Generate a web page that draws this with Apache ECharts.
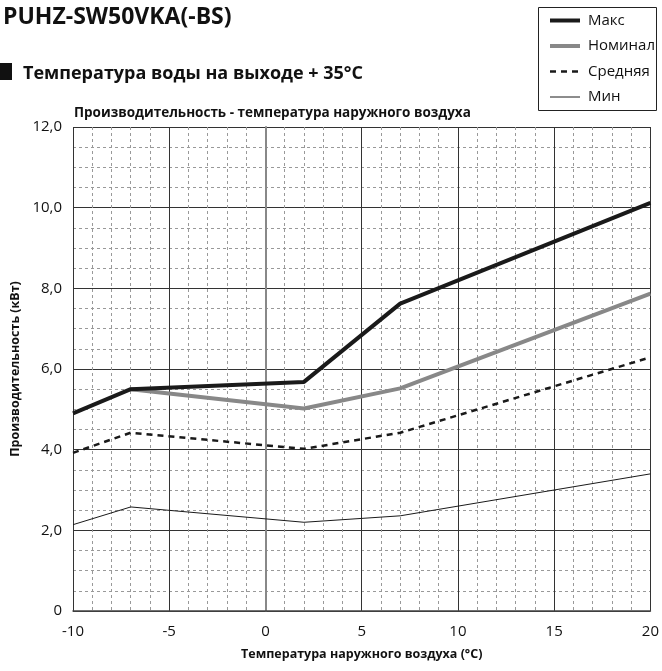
<!DOCTYPE html>
<html>
<head>
<meta charset="utf-8">
<script src="https://cdn.jsdelivr.net/npm/echarts@6/dist/echarts.min.js"></script>
<style>
html,body{margin:0;padding:0;background:#fff;}
#chart{width:662px;height:671px;}
</style>
</head>
<body>
<div id="chart"></div>
<script>
var seriesNames = ['Макс', 'Номинал', 'Средняя', 'Мин'];
var tempMax = [-10, -7, 2, 7, 20];
var valMax = [4.9, 5.5, 5.68, 7.62, 10.12];
var tempNom = [-7, 2, 7, 20];
var valNom = [5.5, 5.02, 5.52, 7.87];
var tempAvg = [-10, -7, 2, 7, 20];
var valAvg = [3.92, 4.42, 4.02, 4.42, 6.29];
var tempMin = [-10, -7, 2, 7, 20];
var valMin = [2.14, 2.58, 2.2, 2.36, 3.4];

function pairs(xs, ys) { return xs.map(function (x, i) { return [x, ys[i]]; }); }

var FONT = '"Open Sans", "Noto Sans", sans-serif';
var lineStyles = [
  {color: '#1a1a1a', width: 4},
  {color: '#888', width: 4},
  {color: '#1a1a1a', width: 2.5, type: [6, 5]},
  {color: '#1a1a1a', width: 1}
];
var chart = echarts.init(document.getElementById('chart'), null, {renderer: 'canvas'});
chart.setOption({
  backgroundColor: '#fff',
  animation: false,
  textStyle: {fontFamily: FONT},
  title: [
    {text: 'PUHZ-SW50VKA(-BS)', left: -2, top: 1, textStyle: {fontSize: 23, fontWeight: 'bold', color: '#111', fontFamily: FONT}},
    {text: 'Температура воды на выходе + 35°C', left: 18, top: 60, textStyle: {fontSize: 18, fontWeight: 'bold', color: '#111', fontFamily: FONT}},
    {text: 'Производительность - температура наружного воздуха', left: 69, top: 101, textStyle: {fontSize: 13.5, fontWeight: 'bold', color: '#111', fontFamily: FONT}}
  ],
  graphic: [
    {type: 'rect', shape: {x: 0, y: 63, width: 12, height: 17}, style: {fill: '#111'}},
    {type: 'rect', shape: {x: 538.5, y: 7.5, width: 118, height: 103}, style: {fill: 'none', stroke: '#222', lineWidth: 1}}
  ],
  legend: {
    orient: 'vertical', left: 543, top: 8,
    itemWidth: 30, itemHeight: 14, itemGap: 10.5,
    data: seriesNames.map(function (n, i) { return {name: n, lineStyle: lineStyles[i]}; }),
    itemStyle: {opacity: 0},
    textStyle: {fontSize: 15, color: '#111', fontFamily: FONT, padding: [0, 0, 0, 3]}
  },
  grid: {left: 73, right: 9, top: 127, bottom: 60, containLabel: false},
  xAxis: {
    type: 'value', min: -10, max: 20, interval: 5,
    name: 'Температура наружного воздуха (°C)', nameLocation: 'middle', nameGap: 37,
    nameTextStyle: {fontSize: 12.5, fontWeight: 'bold', color: '#111', fontFamily: FONT},
    axisLine: {show: true, onZero: false, lineStyle: {color: '#444', width: 1.5}},
    axisTick: {show: false},
    axisLabel: {fontSize: 15, color: '#111', margin: 13, fontFamily: FONT},
    splitLine: {show: true, lineStyle: {color: '#333', width: 1}},
    minorTick: {show: false, splitNumber: 5},
    minorSplitLine: {show: true, lineStyle: {color: '#999', width: 1, type: [3, 3]}}
  },
  yAxis: {
    type: 'value', min: 0, max: 12, interval: 2,
    name: 'Производительность (кВт)', nameLocation: 'middle', nameGap: 50, nameRotate: 90,
    nameTextStyle: {fontSize: 12.5, fontWeight: 'bold', color: '#111', fontFamily: FONT},
    axisLine: {show: true, lineStyle: {color: '#888', width: 2}},
    axisTick: {show: false},
    axisLabel: {fontSize: 15, color: '#111', margin: 11, fontFamily: FONT,
      formatter: function (v) { return v === 0 ? '0' : v.toFixed(1).replace('.', ','); }},
    splitLine: {show: true, lineStyle: {color: '#333', width: 1}},
    minorTick: {show: false, splitNumber: 4},
    minorSplitLine: {show: true, lineStyle: {color: '#999', width: 1, type: [3, 3]}}
  },
  series: [
    {name: seriesNames[0], type: 'line', data: pairs(tempMax, valMax), symbol: 'none', z: 5,
     lineStyle: lineStyles[0], itemStyle: {color: '#1a1a1a'}},
    {name: seriesNames[1], type: 'line', data: pairs(tempNom, valNom), symbol: 'none', z: 4,
     lineStyle: lineStyles[1], itemStyle: {color: '#888'}},
    {name: seriesNames[2], type: 'line', data: pairs(tempAvg, valAvg), symbol: 'none', z: 3,
     lineStyle: lineStyles[2], itemStyle: {color: '#1a1a1a'}},
    {name: seriesNames[3], type: 'line', data: pairs(tempMin, valMin), symbol: 'none', z: 3,
     lineStyle: lineStyles[3], itemStyle: {color: '#1a1a1a'}}
  ]
});
</script>
</body>
</html>
